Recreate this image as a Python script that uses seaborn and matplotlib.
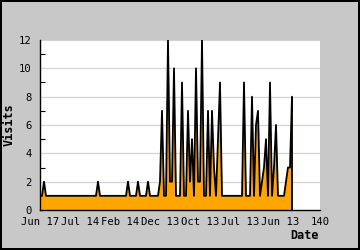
import matplotlib
matplotlib.use("Agg")
import matplotlib.pyplot as plt
import seaborn as sns
import pandas as pd

# ---- data ----
day_index = list(range(127))
visits = [1, 1, 2] + [1] * 26 + [2] + [1] * 14 + [2] + [1] * 4 + [2] + [1] * 4 + [2] + [1] * 5 + \
    [2, 7, 1, 1, 12, 2, 2, 10, 1, 1, 1, 9, 1, 1, 7, 2, 5, 1, 10, 2, 2, 12, 1, 1, 7, 1, 7, 3, 1, 5, 9] + \
    [1] * 11 + [9, 1, 1, 1, 8, 1, 6, 7, 1, 2, 3, 5, 1, 9, 1, 3, 6, 1, 1, 1, 1, 2, 3, 3, 8]
tick_positions = [0, 20, 40, 60, 80, 100, 120, 140]
tick_labels = ["Jun 17", "Jul 14", "Feb 14", "Dec 13", "Oct 13", "Jul 13", "Jun 13", "140"]
y_ticks = [0, 2, 4, 6, 8, 10, 12]
y_minor = [1, 3, 5, 7, 9, 11]

df = pd.DataFrame({"day": day_index, "visits": visits})

sns.set_theme(style="white")
plt.rcParams["font.family"] = ["DejaVu Sans Mono", "DejaVu Sans"]

W, H = 360, 250
fig = plt.figure(figsize=(W / 100, H / 100), dpi=100, facecolor="#c8c8c8",
                 edgecolor="black", linewidth=1.5)
ax = fig.add_axes([40 / W, 1 - 210 / H, 280 / W, 170 / H])
ax.set_facecolor("white")

for yv in y_ticks[1:]:
    ax.axhline(yv, color="#d4d4d4", lw=0.9, zorder=0)

ax.fill_between(df["day"], 0, df["visits"], color="#ffa500", lw=0, zorder=2)
sns.lineplot(data=df, x="day", y="visits", color="black", lw=1.3, ax=ax, zorder=3)
ax.vlines(df["day"].iloc[-1], 0, df["visits"].iloc[-1], color="black", lw=1.3, zorder=3)

ax.set_xlim(0, 140)
ax.set_ylim(0, 12)
ax.set_xticks(tick_positions)
ax.set_xticklabels(tick_labels)
ax.set_yticks(y_ticks)
ax.set_yticks(y_minor, minor=True)
ax.tick_params(axis="both", which="major", direction="in", length=4, width=0.8,
               color="black", labelsize=7.6, labelcolor="black")
ax.tick_params(axis="y", which="minor", direction="in", left=True, length=3.5,
               width=0.8, color="black")
ax.tick_params(axis="x", which="minor", bottom=False)
ax.tick_params(axis="y", which="major", pad=6)
ax.tick_params(axis="x", which="major", pad=5)

for s in ["top", "right"]:
    ax.spines[s].set_visible(False)
for s in ["left", "bottom"]:
    ax.spines[s].set_color("black")
    ax.spines[s].set_linewidth(1.0)

ax.set_xlabel("")
ax.set_ylabel("")
fig.text(319 / W, 1 - 235.5 / H, "Date", ha="right", va="center",
         fontsize=8.5, fontweight="bold", color="black")
fig.text(9.5 / W, 0.5, "Visits", ha="center", va="center", rotation=90,
         fontsize=8.5, fontweight="bold", color="black")

fig.savefig("out.png", dpi=100, facecolor=fig.get_facecolor(), edgecolor=fig.get_edgecolor())
